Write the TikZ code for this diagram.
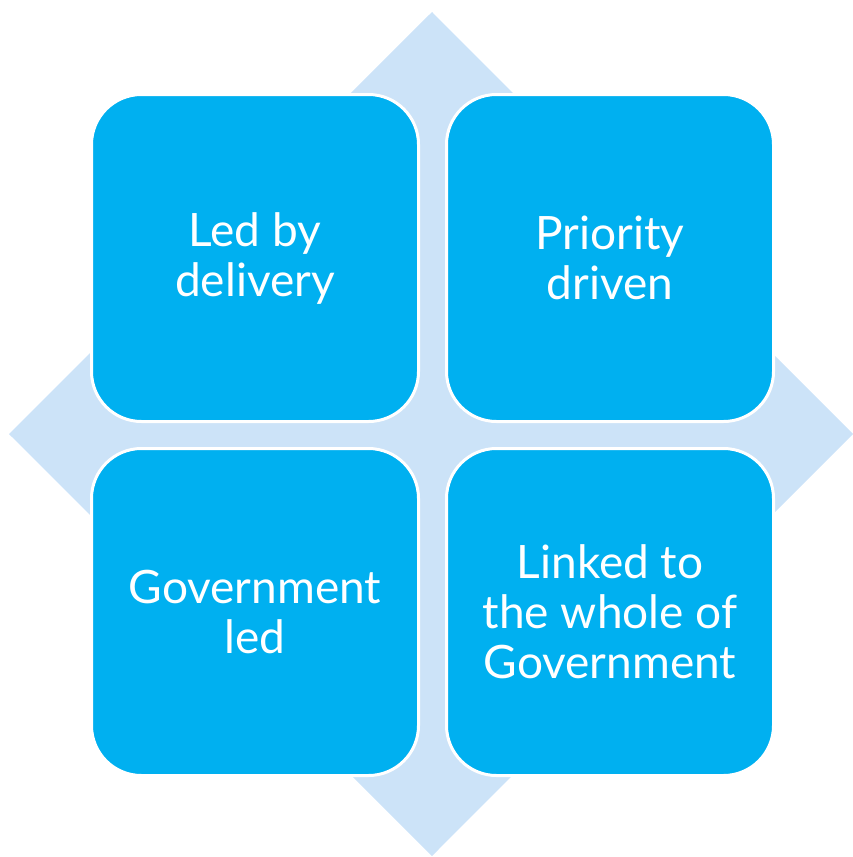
\documentclass[tikz,border=0pt]{standalone}
\usepackage{fontspec}
\setmainfont{Lato}
\definecolor{boxblue}{HTML}{00B0F0}
\definecolor{diamondblue}{HTML}{CCE3F8}
\begin{document}
\begin{tikzpicture}[x=1pt,y=-1pt,
  quad/.style={draw=white, line width=3pt, fill=boxblue, rounded corners=50pt,
    minimum width=327pt, minimum height=327pt, inner sep=0pt,
    text=white, align=center, font=\fontsize{46}{50}\selectfont}]
\useasboundingbox (0,0) rectangle (852,857);
\fill[diamondblue] (432,12) -- (853,434) -- (432,856) -- (9,434) -- cycle;
\node[quad] (tl) at (255,258) {Led by\\delivery};
\node[quad] (tr) at (610,258) {Priority\\driven};
\node[quad] (bl) at (255,612) {Government\\led};
\node[quad] (br) at (610,612) {Linked to\\the whole of\\Government};
\end{tikzpicture}
\end{document}
